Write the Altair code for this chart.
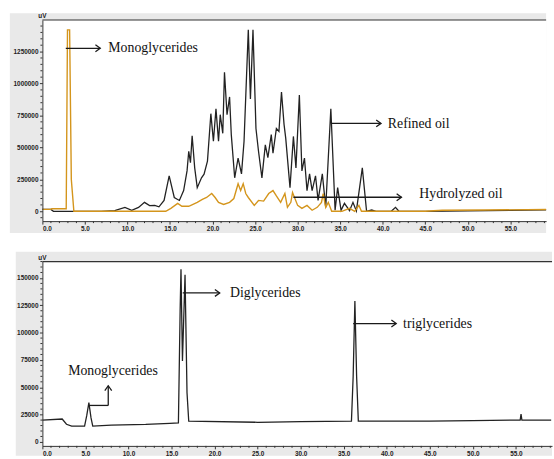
import altair as alt
import pandas as pd

# ---- Hydrolysis chromatogram (upper panel): retention time (min) / response (uV)
refined_t = [0.0, 1.0, 1.3, 6.9, 8.5, 9.7, 10.5, 11.3, 12.0, 12.6, 13.2, 13.7, 14.3, 14.9,
             15.5, 16.1, 16.6, 17.0, 17.2, 17.4, 17.6, 17.9, 18.2, 18.7, 19.0, 19.4, 19.8,
             20.1, 20.4, 20.7, 20.9, 21.2, 21.4, 21.7, 22.0, 22.2, 22.6, 23.0, 23.4, 23.7,
             24.2, 24.45, 24.75, 25.1, 25.4, 25.8, 26.2, 26.5, 26.9, 27.1, 27.5, 27.8, 28.1,
             28.4, 28.6, 29.1, 29.5, 29.8, 30.2, 30.5, 30.8, 31.1, 31.4, 31.7, 32.1, 32.4,
             32.9, 33.3, 33.9, 34.4, 34.7, 35.1, 35.5, 36.1, 36.5, 36.9, 37.6, 38.1, 38.7,
             39.2, 41.0, 41.5, 41.9, 45.0, 50.0, 55.0, 59.2]
refined_v = [15000, 15000, 0, 0, 5000, 30000, 8000, 30000, 70000, 45000, 46000, 35000, 85000, 278000,
             108000, 85000, 162000, 316000, 470000, 380000, 590000, 340000, 185000, 262000, 290000, 393000, 764000,
             548000, 802000, 548000, 756000, 610000, 1088000, 756000, 895000, 600000, 262000, 417000, 293000, 548000,
             1420000, 880000, 1420000, 648000, 470000, 262000, 520000, 420000, 600000, 455000, 648000, 625000, 934000,
             680000, 571000, 185000, 586000, 340000, 910000, 316000, 417000, 162000, 293000, 162000, 278000, 85000,
             293000, 31000, 802000, 8000, 185000, 8000, 62000, 5000, 70000, 3000, 340000, 0, 10000,
             0, 0, 31000, 0, 0, 3000, 8000, 12000]

hydro_t = [0.0, 1.0, 1.1, 2.8, 2.95, 3.2, 3.4, 3.7, 14.5, 15.1, 15.9, 16.4, 17.2, 17.7, 18.2,
           18.8, 19.3, 19.9, 20.3, 20.7, 21.3, 22.0, 22.5, 23.0, 23.3, 23.6, 23.9, 24.2, 24.9,
           25.4, 26.0, 26.6, 27.1, 27.5, 28.0, 28.5, 28.8, 29.2, 29.4, 30.0, 30.5, 31.1, 31.7,
           32.3, 32.8, 33.0, 33.3, 33.6, 34.0, 35.2, 36.1, 36.7, 37.2, 37.5, 45.0, 47.0, 52.0, 59.2]
hydro_v = [15000, 15000, 20000, 20000, 1420000, 1420000, 250000, 0, 0, 23000, 62000, 39000, 39000, 55000, 70000,
           93000, 108000, 139000, 108000, 70000, 54000, 70000, 100000, 216000, 162000, 216000, 139000, 108000, 46000,
           85000, 80000, 139000, 162000, 120000, 70000, 139000, 31000, 70000, 147000, 46000, 23000, 46000, 8000,
           31000, 70000, 139000, 31000, 70000, 0, 0, 23000, 0, 46000, 0, 0, 8000, 10000, 14000]

# ---- Standard mixture (lower panel)
std_t = [0.0, 2.3, 2.8, 3.4, 4.9, 5.15, 5.4, 5.65, 5.85, 8.0, 12.0, 14.8, 15.8, 16.0, 16.1, 16.27,
         16.57, 16.8, 17.0, 25.0, 30.0, 35.9, 36.1, 36.3, 36.5, 36.7, 45.0, 50.0, 55.5, 55.6,
         55.7, 59.1]
std_v = [20000, 21000, 16200, 14400, 14400, 24000, 36000, 22000, 14400, 15300, 16000, 17000, 17500, 120000, 158000, 74000,
         153000, 45000, 19000, 18000, 18500, 19000, 60000, 129000, 60000, 19000, 19000, 19500, 20000, 25500,
         20000, 20000]

# ---- Axis ticks
x_major = [0, 5, 10, 15, 20, 25, 30, 35, 40, 45, 50, 55]
x_minor = [t for t in range(0, 60) if t % 5]
top_y_major = [0, 250000, 500000, 750000, 1000000, 1250000]
top_y_minor = [v for v in range(-50000, 1500000, 50000) if v % 250000]
bot_y_major = [0, 25000, 50000, 75000, 100000, 125000, 150000]
bot_y_minor = [v for v in range(0, 165001, 5000) if v % 25000]

# ---- Annotations
top_note_text = ["Monoglycerides", "Refined oil", "Hydrolyzed oil"]
top_note_t = [7.75, 40.6, 44.3]
top_note_v = [1276000, 684000, 135000]
top_note_align = ["left", "left", "left"]
top_seg_t0 = [2.75, 33.9, 29.5]
top_seg_t1 = [6.8, 39.8, 42.2]
top_seg_v0 = [1276000, 688000, 110000]
top_seg_v1 = [1276000, 688000, 110000]
top_head_dir = ["right", "right", "right"]

bot_note_text = ["Monoglycerides", "Diglycerides", "triglycerides"]
bot_note_t = [8.2, 21.8, 41.9]
bot_note_v = [65000, 135800, 107500]
bot_note_align = ["center", "left", "left"]
bot_seg_t0 = [5.4, 7.65, 16.3, 36.1]
bot_seg_t1 = [7.65, 7.65, 20.6, 41.1]
bot_seg_v0 = [33400, 33400, 136300, 108300]
bot_seg_v1 = [33400, 51400, 136300, 108300]
bot_head_t = [7.65, 20.6, 41.1]
bot_head_v = [51400, 136300, 108300]
bot_head_dir = ["up", "right", "right"]

X_MAX = 59.2
INK = "#222222"
ORANGE = "#d4951c"
PANEL = "#e9e9e9"
LABEL_FONT = "Liberation Sans"
NOTE_FONT = "'Liberation Serif', 'Times New Roman', serif"

HEAD_SHAPES = {"right": "M-1.4,-1L0,0L-1.4,1", "up": "M-1,1.4L0,0L1,1.4"}


def panel(traces, y_domain, y_major, y_minor, w, h, frame,
          notes, segs, heads):
    one = pd.DataFrame({"k": [0]})
    xs = alt.Scale(domain=[0, X_MAX], nice=False, zero=False)
    ys = alt.Scale(domain=y_domain, nice=False, zero=False)
    common = dict(title=None, grid=False, tickSize=3, labelPadding=1.5,
                  labelFont=LABEL_FONT, labelFontWeight="bold", labelFontSize=6.5,
                  labelColor="#222", domainColor="#333", tickColor="#333",
                  labelOverlap=False, zindex=2)
    xa = alt.Axis(values=x_major, format=".1f", **common)
    ya = alt.Axis(values=y_major, format="d", **common)
    fl, ft, fb = frame

    layers = []
    # grey panel and white plotting area
    layers.append(alt.Chart(one).mark_rect(color=PANEL).encode(
        x=alt.value(-fl), x2=alt.value(w), y=alt.value(-ft), y2=alt.value(h + fb)))
    layers.append(alt.Chart(one).mark_rect(color="white").encode(
        x=alt.value(0), x2=alt.value(w), y=alt.value(0), y2=alt.value(h)))
    layers.append(alt.Chart(one).mark_rule(color="#333", strokeWidth=1.2).encode(
        x=alt.value(0), x2=alt.value(w), y=alt.value(0)))
    # minor ticks
    layers.append(alt.Chart(pd.DataFrame({"v": y_minor})).mark_rule(color="#333").encode(
        y=alt.Y("v:Q", scale=ys, axis=ya), x=alt.value(-2), x2=alt.value(0)))
    layers.append(alt.Chart(pd.DataFrame({"t": x_minor})).mark_rule(color="#333").encode(
        x=alt.X("t:Q", scale=xs, axis=xa), y=alt.value(h), y2=alt.value(h + 2)))
    # traces
    for t, v, color, width in traces:
        layers.append(alt.Chart(pd.DataFrame({"t": t, "v": v})).mark_line(
            color=color, strokeWidth=width, interpolate="linear").encode(
            x=alt.X("t:Q", scale=xs, axis=xa), y=alt.Y("v:Q", scale=ys, axis=ya)))
    # arrows
    layers.append(alt.Chart(segs).mark_rule(color="#1a1a1a", strokeWidth=1.3).encode(
        x=alt.X("t0:Q", scale=xs, axis=xa), x2="t1:Q",
        y=alt.Y("v0:Q", scale=ys, axis=ya), y2="v1:Q"))
    for d, shape in HEAD_SHAPES.items():
        sub = heads[heads["dir"] == d]
        if len(sub):
            layers.append(alt.Chart(sub).mark_point(
                shape=shape, size=49, filled=False, color="#1a1a1a", strokeWidth=1.3,
                opacity=1).encode(
                x=alt.X("t:Q", scale=xs, axis=xa), y=alt.Y("v:Q", scale=ys, axis=ya)))
    for a in ["left", "center"]:
        sub = notes[notes["align"] == a]
        if len(sub):
            layers.append(alt.Chart(sub).mark_text(
                font=NOTE_FONT, fontSize=14, color="#111", align=a, baseline="middle").encode(
                x=alt.X("t:Q", scale=xs, axis=xa), y=alt.Y("v:Q", scale=ys, axis=ya),
                text="label:N"))
    # unit label
    layers.append(alt.Chart(one).mark_text(
        text="uV", font=LABEL_FONT, fontWeight="bold", fontSize=6.5, color="#222",
        baseline="middle", align="center").encode(x=alt.value(0), y=alt.value(-4)))
    return alt.layer(*layers).properties(width=w, height=h)


top = panel(
    [(refined_t, refined_v, INK, 1.3), (hydro_t, hydro_v, ORANGE, 1.4)],
    [-77000, 1497000], top_y_major, top_y_minor, 511, 204, (33, 7, 12),
    pd.DataFrame({"label": top_note_text, "t": top_note_t, "v": top_note_v, "align": top_note_align}),
    pd.DataFrame({"t0": top_seg_t0, "t1": top_seg_t1, "v0": top_seg_v0, "v1": top_seg_v1}),
    pd.DataFrame({"t": top_seg_t1, "v": top_seg_v1, "dir": top_head_dir}),
)

bottom = panel(
    [(std_t, std_v, INK, 1.3)],
    [-3600, 165000], bot_y_major, bot_y_minor, 517, 187, (27, 10, 10),
    pd.DataFrame({"label": bot_note_text, "t": bot_note_t, "v": bot_note_v, "align": bot_note_align}),
    pd.DataFrame({"t0": bot_seg_t0, "t1": bot_seg_t1, "v0": bot_seg_v0, "v1": bot_seg_v1}),
    pd.DataFrame({"t": bot_head_t, "v": bot_head_v, "dir": bot_head_dir}),
)

chart = alt.vconcat(top, bottom, spacing=19).properties(
    padding={"left": 10, "top": 10, "right": 0, "bottom": 0},
    background="white",
).configure_view(stroke=None)

chart.save("out.html", embed_options={"renderer": "svg", "actions": False})
